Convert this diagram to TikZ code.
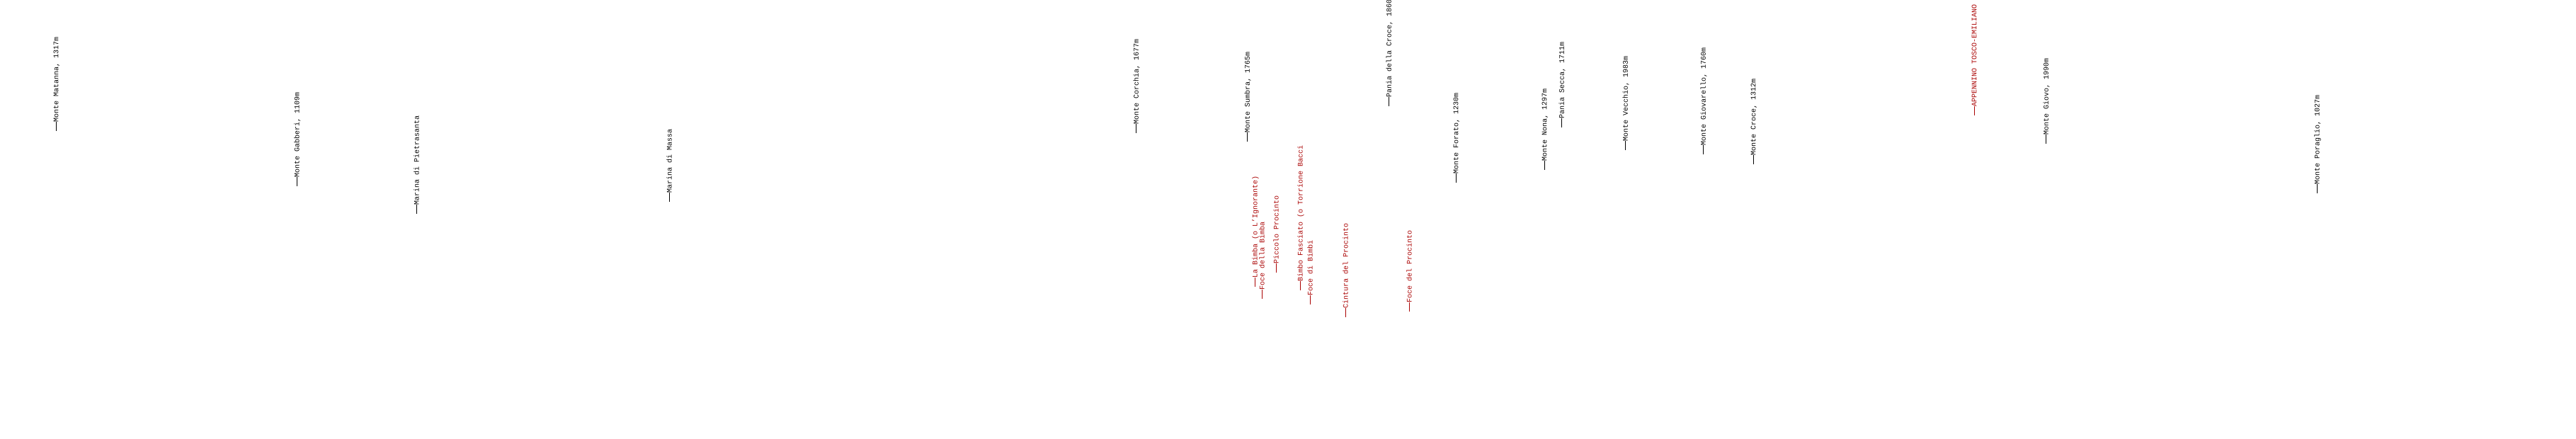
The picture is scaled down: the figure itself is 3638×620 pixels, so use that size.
\documentclass[tikz,border=0pt]{standalone}
\usepackage{fontspec}
\setmonofont{Liberation Mono}
\definecolor{labred}{RGB}{170,0,0}
\newcommand\ldash{\rule[0.3em]{1.25em}{0.6pt}}
\tikzset{
  lbl/.style={rotate=90, anchor=west, inner sep=0pt, font=\ttfamily\fontsize{10}{12}\selectfont, text=black},
  redlbl/.style={lbl, text=labred}
}
\begin{document}
\begin{tikzpicture}[x=1pt,y=1pt]
\useasboundingbox (0,0) rectangle (3638,620);
\fill[white] (0,0) rectangle (3638,620);
\begin{scope}
\clip (0,0) rectangle (3638,620);
\node[lbl] (matanna) at (80,{620-185}) {\ldash Monte Matanna, 1317m};
\node[lbl] (gabberi) at (420,{620-263}) {\ldash Monte Gabberi, 1109m};
\node[lbl] (pietrasanta) at (588,{620-302}) {\ldash Marina di Pietrasanta};
\node[lbl] (massa) at (945,{620-285}) {\ldash Marina di Massa};
\node[lbl] (corchia) at (1605,{620-188}) {\ldash Monte Corchia, 1677m};
\node[lbl] (sumbra) at (1762,{620-200}) {\ldash Monte Sumbra, 1765m};
\node[redlbl] (bimba) at (1773,{620-405}) {\ldash La Bimba (o L’Ignorante)};
\node[redlbl] (focebimba) at (1782,{620-422}) {\ldash Foce della Bimba};
\node[redlbl] (piccolo) at (1802,{620-385}) {\ldash Piccolo Procinto};
\node[redlbl] (bimbo) at (1837,{620-410}) {\ldash Bimbo Fasciato (o Torrione Bacci};
\node[redlbl] (focebimbi) at (1850,{620-430}) {\ldash Foce di Bimbi};
\node[redlbl] (cintura) at (1900,{620-448}) {\ldash Cintura del Procinto};
\node[lbl] (paniacroce) at (1962,{620-150}) {\ldash Pania della Croce, 1860m};
\node[redlbl] (foceprocinto) at (1990,{620-440}) {\ldash Foce del Procinto};
\node[lbl] (forato) at (2057,{620-258}) {\ldash Monte Forato, 1230m};
\node[lbl] (nona) at (2182,{620-240}) {\ldash Monte Nona, 1297m};
\node[lbl] (paniasecca) at (2206,{620-180}) {\ldash Pania Secca, 1711m};
\node[lbl] (vecchio) at (2296,{620-212}) {\ldash Monte Vecchio, 1983m};
\node[lbl] (giovarello) at (2406,{620-218}) {\ldash Monte Giovarello, 1760m};
\node[lbl] (croce) at (2477,{620-232}) {\ldash Monte Croce, 1312m};
\node[redlbl] (appennino) at (2788,{620-163}) {\ldash APPENNINO TOSCO-EMILIANO};
\node[lbl] (giovo) at (2890,{620-203}) {\ldash Monte Giovo, 1990m};
\node[lbl] (poraglio) at (3273,{620-273}) {\ldash Monte Poraglio, 1027m};
\end{scope}
\end{tikzpicture}
\end{document}
